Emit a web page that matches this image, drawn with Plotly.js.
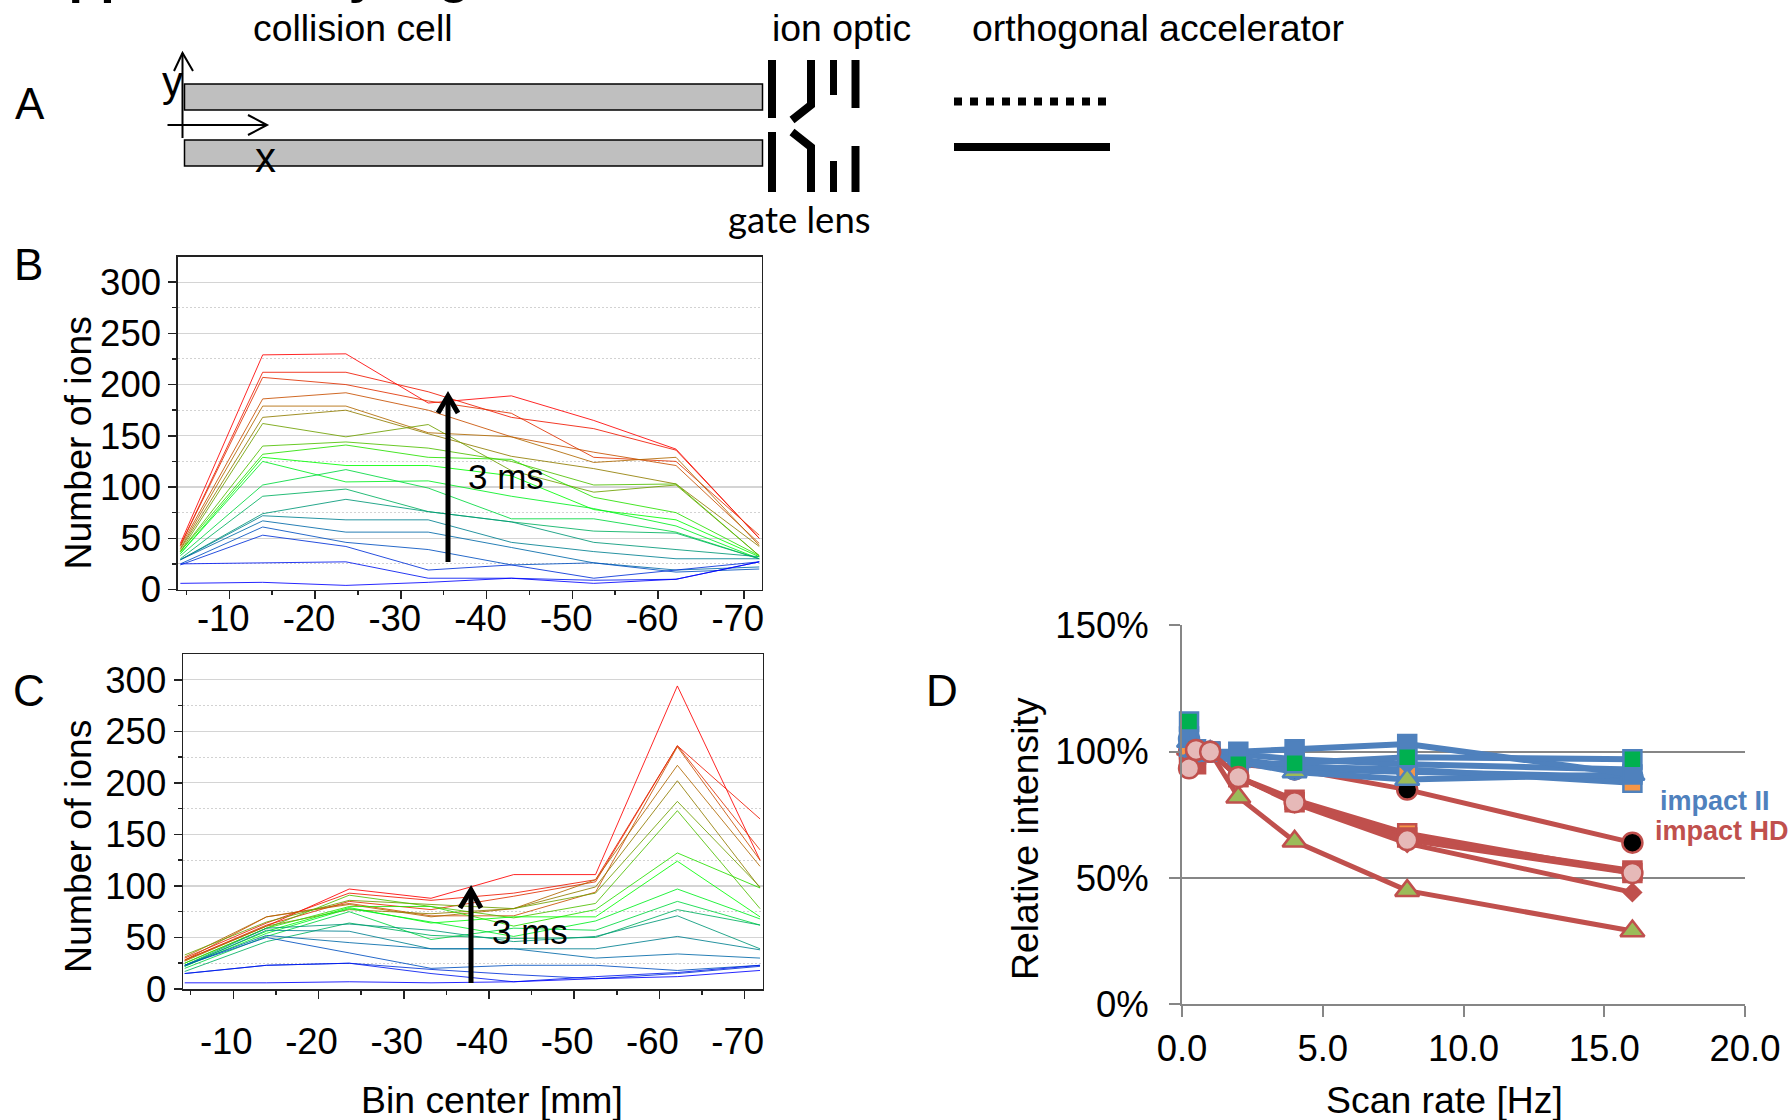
<!DOCTYPE html>
<html>
<head>
<meta charset="utf-8">
<script src="https://cdn.plot.ly/plotly-3.0.1.min.js"></script>
<style>html,body{margin:0;padding:0;background:#fff}#chart{width:1790px;height:1120px}</style>
</head>
<body>
<div id="chart"></div>
<script>
// ---- data ----
const binCenters = [-4.3,-13.9,-23.6,-33.2,-42.9,-52.5,-62.1,-71.8];
const binTickVals = [-10,-20,-30,-40,-50,-60,-70];
const binTickText = ['-10','-20','-30','-40','-50','-60','-70'];
const countTicks = [0,50,100,150,200,250,300];

const panelB01 = [45,229,230,182,189,165,137,50];
const panelB02 = [43,212,212,193,168,157,136,50];
const panelB03 = [43,207,200,184,172,129,125,53];
const panelB04 = [42,186,192,175,149,134,121,45];
const panelB05 = [40,179,179,153,149,124,129,43];
const panelB06 = [39,168,175,152,130,118,103,42];
const panelB07 = [37,162,149,161,116,95,102,33];
const panelB08 = [37,140,144,138,125,102,103,33];
const panelB09 = [37,132,141,129,127,90,75,33];
const panelB10 = [35,129,121,121,111,78,68,32];
const panelB11 = [35,125,105,106,91,79,62,30];
const panelB12 = [33,102,117,99,69,69,56,30];
const panelB13 = [30,91,98,76,66,57,55,30];
const panelB14 = [29,74,88,76,66,46,39,32];
const panelB15 = [29,72,68,68,46,37,30,30];
const panelB16 = [29,67,56,56,41,26,19,22];
const panelB17 = [25,61,46,39,24,26,17,20];
const panelB18 = [24,53,42,19,24,11,19,27];
const panelB19 = [25,26,27,11,11,9,10,27];
const panelB20 = [6,7,4,7,11,6,10,27];

const panelC01 = [28,61,97,88,111,111,294,125];
const panelC02 = [30,64,93,86,93,106,236,165];
const panelC03 = [28,62,85,77,90,104,236,135];
const panelC04 = [28,70,83,71,71,94,235,125];
const panelC05 = [31,70,82,70,78,106,217,119];
const panelC06 = [27,61,77,73,78,99,202,98];
const panelC07 = [33,65,86,82,78,93,182,99];
const panelC08 = [25,59,91,80,69,83,173,78];
const panelC09 = [25,59,80,80,61,77,132,98];
const panelC10 = [23,56,79,64,70,70,124,70];
const panelC11 = [22,54,78,65,51,66,97,68];
const panelC12 = [20,51,75,48,59,57,85,62];
const panelC13 = [17,46,64,52,49,50,77,62];
const panelC14 = [23,59,63,57,46,51,71,39];
const panelC15 = [22,57,56,39,39,39,51,38];
const panelC16 = [23,52,45,39,39,30,34,30];
const panelC17 = [23,50,35,20,23,23,18,23];
const panelC18 = [15,23,25,19,14,10,15,22];
const panelC19 = [15,23,25,15,7,12,16,23];
const panelC20 = [6,6,7,6,7,10,12,18];

const rampColors = ['#ff0000','#f01800','#e03000','#c85000','#b06800','#907c00','#70a000','#50c000','#28e000','#00ff00',
                    '#00f020','#00d840','#00b060','#009878','#008090','#0068a8','#0050c0','#0030d8','#0018f0','#0000ff'];

const scanRates = [0.25,0.5,1,2,4,8,16];
const hdBlack    = [100,100,100,95,93,85,64];
const hdOrange   = [101,99,100,90,81,67.7,52];
const hdDiamond  = [100,99,100,90,79.5,63.7,44.3];
const hdTriangle = [101,100,100,82,64.5,45,29];
const hdSquare   = [97,95,100,90,80,66,53];
const hdCircle   = [93.4,100.7,100,90,80,65,52];
const iiBlack    = [105,100,100,97,93,92,90];
const iiOrange   = [102,100,100,97,94,93,87.7];
const iiDiamond  = [108,100,100,99,97,95,93];
const iiTriangle = [104,100,100,96,92,89,91];
const iiSquare   = [106,100,100,100,101,103,91];
const iiGreen    = [112,101,100,95,95.4,97.8,97];

const panelB = [panelB01,panelB02,panelB03,panelB04,panelB05,panelB06,panelB07,panelB08,panelB09,panelB10,
                panelB11,panelB12,panelB13,panelB14,panelB15,panelB16,panelB17,panelB18,panelB19,panelB20];
const panelC = [panelC01,panelC02,panelC03,panelC04,panelC05,panelC06,panelC07,panelC08,panelC09,panelC10,
                panelC11,panelC12,panelC13,panelC14,panelC15,panelC16,panelC17,panelC18,panelC19,panelC20];

// ---- helpers: page pixels to paper fractions ----
const W = 1790, H = 1120;
const px = v => v / W;
const py = v => 1 - v / H;
const dom = (a, b, n) => [a / n, b / n];
const ARIAL = 'Liberation Sans, Arial, sans-serif';
const BLACK = '#000000';
const TICK = 36.5, LABEL = 37.4;

const traces = [];
panelB.forEach((vals, i) => traces.push({x: binCenters, y: vals, xaxis: 'x', yaxis: 'y', mode: 'lines',
  name: 'B' + (i + 1), line: {color: rampColors[i], width: 1}, opacity: 0.85}));
panelC.forEach((vals, i) => traces.push({x: binCenters, y: vals, xaxis: 'x2', yaxis: 'y2', mode: 'lines',
  name: 'C' + (i + 1), line: {color: rampColors[i], width: 1}, opacity: 0.85}));

const RED = '#c0504d', BLUE = '#4f81bd';
const symbolSize = {square: 18, circle: 20, diamond: 13, 'triangle-up': 21};
function rate(vals, lineColor, symbol, fill, name) {
  traces.push({x: scanRates, y: vals, xaxis: 'x3', yaxis: 'y3', mode: 'lines+markers', name, cliponaxis: false,
    line: {color: lineColor, width: lineColor === BLUE ? 6 : 5},
    marker: {symbol, color: fill, size: symbolSize[symbol], line: {color: lineColor, width: 2.5}}});
}
rate(hdBlack, RED, 'circle', '#000000', 'HD black');
rate(hdOrange, RED, 'square', '#f79646', 'HD orange');
rate(hdDiamond, RED, 'diamond', RED, 'HD diamond');
rate(hdTriangle, RED, 'triangle-up', '#9bbb59', 'HD triangle');
rate(hdSquare, RED, 'square', RED, 'HD square');
rate(iiBlack, BLUE, 'circle', '#000000', 'II black');
rate(iiOrange, BLUE, 'square', '#f79646', 'II orange');
rate(iiDiamond, BLUE, 'diamond', BLUE, 'II diamond');
rate(iiTriangle, BLUE, 'triangle-up', '#9bbb59', 'II triangle');
rate(iiSquare, BLUE, 'square', BLUE, 'II square');
rate(iiGreen, BLUE, 'square', '#00b050', 'II green');
rate(hdCircle, RED, 'circle', '#e6b9b8', 'HD circle');

// ---- schematic and decoration shapes ----
const shapes = [];
function rect(x0, y0, x1, y1, fill, lw) {
  shapes.push({type: 'rect', xref: 'paper', yref: 'paper', x0: px(x0), x1: px(x1), y0: py(y0), y1: py(y1),
    fillcolor: fill, line: {color: BLACK, width: lw}, layer: 'above'});
}
function poly(points, lw, dash) {
  const path = points.map((p, i) => (i ? 'L' : 'M') + px(p[0]) + ',' + py(p[1])).join(' ');
  shapes.push({type: 'path', xref: 'paper', yref: 'paper', path, line: {color: BLACK, width: lw, dash: dash || 'solid'}, layer: 'above'});
}
rect(184.5, 84, 762.5, 110, '#bfbfbf', 1.5);
rect(184.5, 140, 762.5, 166, '#bfbfbf', 1.5);
poly([[182.5,138],[182.5,53]], 2);
poly([[174,71],[182.5,53],[193,71]], 2);
poly([[167.5,125],[267,125]], 2);
poly([[248,115],[267,125],[248,135]], 2);
poly([[772,60],[772,118]], 8);
poly([[772,132],[772,192]], 8);
poly([[811,60],[811,105],[792,120]], 8);
poly([[792,132],[811,147],[811,192]], 8);
poly([[833.5,60],[833.5,95]], 7);
poly([[833.5,161],[833.5,192]], 7);
poly([[855.5,60],[855.5,108]], 8);
poly([[855.5,146],[855.5,192]], 8);
poly([[954,101.5],[1108,101.5]], 8, '8px,8px');
poly([[954,147],[1110,147]], 8);
// 3 ms arrows
poly([[448,562],[448,396]], 5);
poly([[438,413],[448,396],[458,413]], 5);
poly([[471,983],[471,890]], 5);
poly([[460,908],[471,890],[481,908]], 5);

// ---- free text ----
function note(text, x, y, size, opts) {
  return Object.assign({text, xref: 'paper', yref: 'paper', x: px(x), y: py(y), xanchor: 'center', yanchor: 'middle',
    showarrow: false, font: {family: ARIAL, size, color: BLACK}}, opts || {});
}
const annotations = [
  note('<b>Supplementary Figure</b>', 0, -26, 52, {xanchor: 'left'}),
  note('collision cell', 353, 28, 37.4),
  note('ion optic', 841.5, 28, 37.4),
  note('orthogonal accelerator', 1158, 28, 37.4),
  note('gate lens', 799, 219, 36.5, {font: {family: 'Lato, sans-serif', size: 36.5, color: BLACK}}),
  note('y', 172, 82, 42),
  note('x', 265, 158, 42),
  note('A', 30, 103, 44),
  note('B', 28, 265, 44),
  note('C', 29, 690, 44),
  note('D', 942, 690, 44),
  note('3 ms', 506, 477, 35),
  note('3 ms', 530, 931, 35),
  note('<b>impact II</b>', 1715, 801, 27, {font: {family: ARIAL, size: 27, color: BLUE}}),
  note('<b>impact HD</b>', 1722, 831, 27, {font: {family: ARIAL, size: 27, color: RED}}),
  note('Number of ions', 77.6, 443, LABEL, {textangle: -90}),
  note('Number of ions', 78, 846, LABEL, {textangle: -90}),
  note('Relative intensity', 1025, 839, LABEL, {textangle: -90}),
  note('Bin center [mm]', 492, 1100, LABEL),
  note('Scan rate [Hz]', 1444, 1100, LABEL)
];

// ---- axes ----
function binAxis(domain, range, anchor, standoff, shift) {
  return {domain, range, anchor, tickmode: 'array', tickvals: binTickVals, ticktext: binTickText,
    showgrid: false, zeroline: false, showline: true, mirror: true, linecolor: '#222222', linewidth: 1.5,
    ticks: 'outside', ticklen: 8, tickwidth: 1.5, tickcolor: '#222222', ticklabelstandoff: standoff, ticklabelshift: shift,
    tickfont: {family: ARIAL, size: TICK, color: BLACK},
    minor: {tickmode: 'array', tickvals: [-5,-15,-25,-35,-45,-55,-65], ticks: 'outside', ticklen: 4, tickcolor: '#222222', showgrid: false}};
}
function countAxis(domain, anchor) {
  return {domain, range: [0, 325], anchor, tickmode: 'array', tickvals: countTicks, zeroline: false,
    showgrid: true, gridcolor: '#d4d4d4', gridwidth: 1.2,
    showline: true, mirror: true, linecolor: '#222222', linewidth: 1.5,
    ticks: 'outside', ticklen: 8, tickwidth: 1.5, tickcolor: '#222222',
    tickfont: {family: ARIAL, size: TICK, color: BLACK},
    minor: {tickmode: 'array', tickvals: [25,75,125,175,225,275], ticks: 'outside', ticklen: 4, tickcolor: '#222222',
      showgrid: true, gridcolor: '#d2d2d2', griddash: '2px,2px', gridwidth: 1}};
}
const GREY = '#868686';
const layout = {
  width: W, height: H, paper_bgcolor: '#ffffff', plot_bgcolor: '#ffffff', showlegend: false,
  margin: {l: 0, r: 0, t: 0, b: 0, pad: 0},
  xaxis: binAxis(dom(177.8, 761.8, W), [-4, -72.1], 'y', -12, 6),
  yaxis: countAxis([1 - 589.5 / H, 1 - 256.5 / H], 'x'),
  xaxis2: binAxis(dom(183, 762.6, W), [-4.1, -72.1], 'y2', 12, 7),
  yaxis2: countAxis([1 - 989 / H, 1 - 654 / H], 'x2'),
  xaxis3: {domain: dom(1182, 1745, W), range: [0, 20], anchor: 'y3', tickmode: 'array', tickvals: [0,5,10,15,20],
    ticktext: ['0.0','5.0','10.0','15.0','20.0'], showgrid: false, zeroline: false, showline: true,
    linecolor: GREY, linewidth: 2, ticks: 'outside', ticklen: 11, tickwidth: 2, tickcolor: GREY,
    tickfont: {family: ARIAL, size: TICK, color: BLACK}},
  yaxis3: {domain: [1 - 1004.3 / H, 1 - 625.4 / H], range: [0, 150], anchor: 'x3', tickmode: 'array', tickvals: [0,50,100,150],
    ticktext: ['0%','50%','100%','150%'], showgrid: true, gridcolor: GREY, gridwidth: 2, zeroline: false, showline: true,
    linecolor: GREY, linewidth: 2, ticks: 'outside', ticklen: 11, tickwidth: 2, tickcolor: GREY, ticklabelstandoff: 13,
    tickfont: {family: ARIAL, size: TICK, color: BLACK}},
  shapes, annotations
};
Plotly.newPlot('chart', traces, layout, {displayModeBar: false, staticPlot: true});
</script>
</body>
</html>
